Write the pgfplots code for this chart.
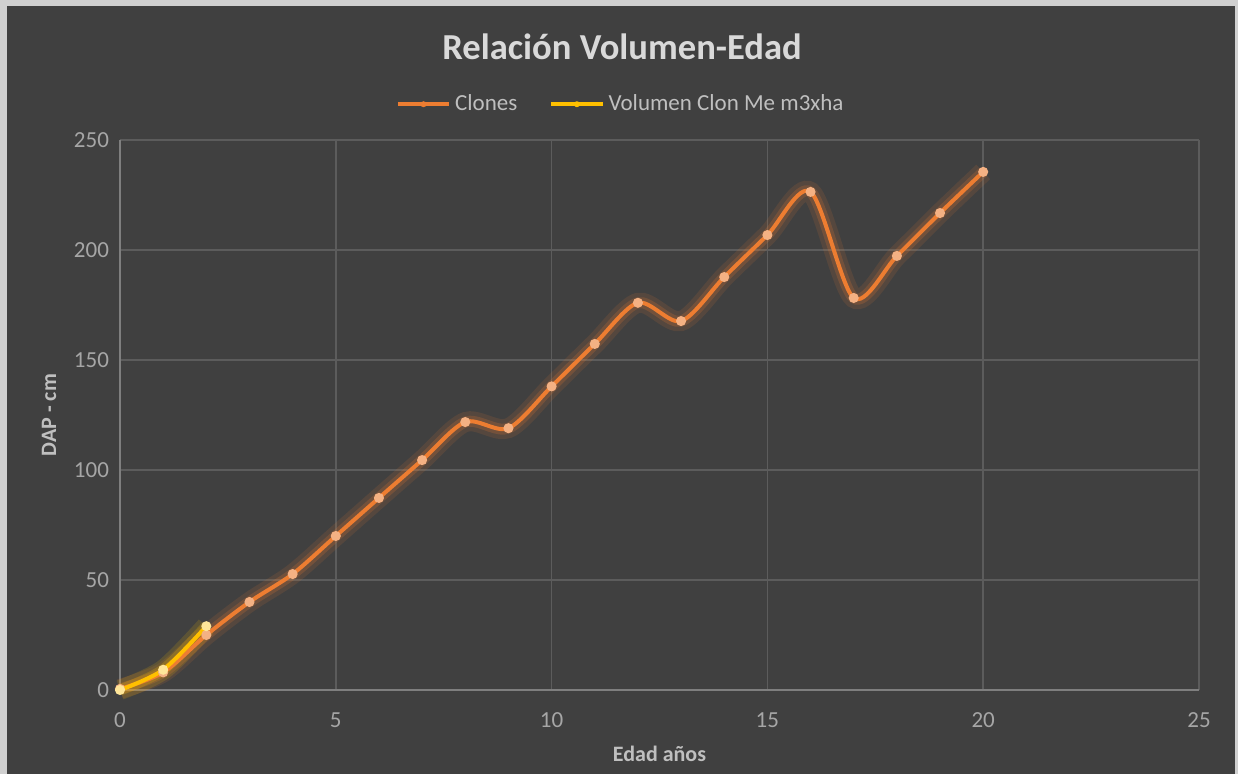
\documentclass[border=0pt]{standalone}
\usepackage{fontspec}
\setmainfont{Carlito}
\usepackage{pgfplots}
\pgfplotsset{compat=1.18}

\definecolor{bgdark}{HTML}{404040}
\definecolor{frame}{HTML}{D0D0D0}
\definecolor{gridc}{HTML}{5C5C5C}
\definecolor{axisc}{HTML}{7F7F7F}
\definecolor{txt}{HTML}{BFBFBF}
\definecolor{ticktxt}{HTML}{A6A6A6}
\definecolor{titletxt}{HTML}{D9D9D9}
\definecolor{clon}{HTML}{ED7D31}
\definecolor{clonmk}{HTML}{F4B183}
\definecolor{volc}{HTML}{FFC000}
\definecolor{volmk}{HTML}{FFE699}

\begin{document}
\begin{tikzpicture}[x=0.5pt,y=0.5pt]
% page in pixel units (1px = 0.5pt), origin at the axis' lower-left corner (120,690)
\useasboundingbox (-120,-84) rectangle (1118,690);
\fill[frame] (-120,-84) rectangle (1118,690);
\fill[bgdark] (-113,-84) rectangle (1115,684);
\node[text=titletxt, font=\fontsize{18.3}{22}\selectfont\bfseries] at (502,643) {Relación Volumen-Edad};
\begin{axis}[
  at={(0,0)}, anchor=origin,
  scale only axis,
  width=539.5pt, height=275pt,
  xmin=0, xmax=25, ymin=0, ymax=250,
  xtick={0,5,...,25}, ytick={0,50,...,250},
  grid=major,
  major grid style={gridc, line width=0.8pt},
  axis line style={draw=none},
  axis x line*=bottom, axis y line*=left,
  tick style={draw=none},
  ticklabel style={text=ticktxt, font=\fontsize{11.5}{13}\selectfont},
  /pgf/number format/assume math mode=true,
  xticklabel style={yshift=-8pt},
  yticklabel style={xshift=-2pt},
  xlabel={Edad años},
  ylabel={DAP - cm},
  label style={text=txt, font=\fontsize{11}{13}\selectfont\bfseries},
  xlabel style={yshift=-2pt},
  ylabel style={yshift=2pt},
  legend columns=2,
  legend style={at={(0.465,1.065)}, anchor=center, draw=none, fill=none,
    text=txt, font=\fontsize{11.5}{13}\selectfont,
    /tikz/every even column/.append style={column sep=14pt}},
  legend image code/.code={
    \draw[#1, mark=none, line width=2pt] (0cm,0cm) -- (0.9cm,0cm);
    \fill[#1, draw=none] (0.45cm,0cm) circle (1.5pt);
  },
  clip=false,
]
\draw[axisc, line width=0.8pt] (axis cs:0,0) -- (axis cs:25,0);
\draw[axisc, line width=0.8pt] (axis cs:0,0) -- (axis cs:0,250);

% glow
\addplot[smooth, clon, opacity=0.12, line width=10pt, forget plot] coordinates {
(0,0.5) (1,8) (2,25) (3,40) (4,52.7) (5,70) (6,87.3) (7,104.5) (8,121.8) (9,119)
(10,138) (11,157.3) (12,176) (13,167.7) (14,187.7) (15,206.8) (16,226.4) (17,178.2)
(18,197.3) (19,216.8) (20,235.5)};
\addplot[smooth, clon, opacity=0.2, line width=5.5pt, forget plot] coordinates {
(0,0.5) (1,8) (2,25) (3,40) (4,52.7) (5,70) (6,87.3) (7,104.5) (8,121.8) (9,119)
(10,138) (11,157.3) (12,176) (13,167.7) (14,187.7) (15,206.8) (16,226.4) (17,178.2)
(18,197.3) (19,216.8) (20,235.5)};
\addplot[smooth, volc, opacity=0.15, line width=10pt, forget plot] coordinates {
(0,0) (1,9.2) (2,29)};
\addplot[smooth, volc, opacity=0.22, line width=5.5pt, forget plot] coordinates {
(0,0) (1,9.2) (2,29)};

\addplot[smooth, clon, line width=2pt, mark=*, mark size=1.45pt,
  mark options={fill=clonmk, draw=clonmk}] coordinates {
(0,0.5) (1,8) (2,25) (3,40) (4,52.7) (5,70) (6,87.3) (7,104.5) (8,121.8) (9,119)
(10,138) (11,157.3) (12,176) (13,167.7) (14,187.7) (15,206.8) (16,226.4) (17,178.2)
(18,197.3) (19,216.8) (20,235.5)};
\addlegendentry{Clones}
\addplot[smooth, volc, line width=2pt, mark=*, mark size=1.45pt,
  mark options={fill=volmk, draw=volmk}] coordinates {
(0,0) (1,9.2) (2,29)};
\addlegendentry{Volumen Clon Me m3xha}
\end{axis}
\end{tikzpicture}
\end{document}
